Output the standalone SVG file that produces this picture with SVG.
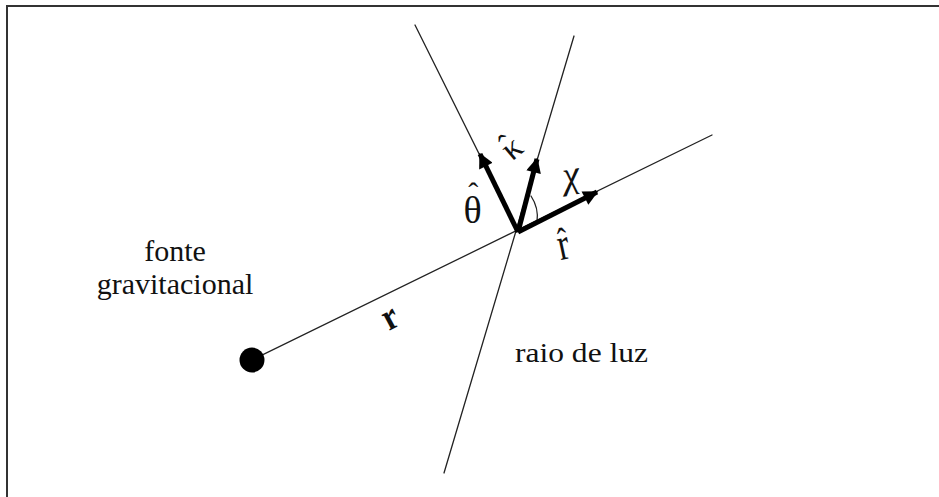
<svg xmlns="http://www.w3.org/2000/svg" width="939" height="497" viewBox="0 0 939 497">
<defs>
<style>
.thin{stroke:#222;stroke-width:1.3;fill:none;stroke-linecap:round}
.vec{stroke:#000;stroke-width:5;fill:none}
.lbl{font-family:"Liberation Serif","Times New Roman",serif;fill:#111}
</style>
<marker id="ah" viewBox="0 0 10 10" refX="9" refY="5" markerWidth="4.4" markerHeight="3" markerUnits="strokeWidth" orient="auto">
<path d="M0,0 L10,5 L0,10 Z" fill="#000"/>
</marker>
</defs>
<rect width="939" height="497" fill="#fff"/>
<path d="M7,497 V6 H939" fill="none" stroke="#333" stroke-width="2"/>
<g id="connectors">
<line class="thin" x1="252" y1="360" x2="712" y2="135"/>
<line class="thin" x1="444" y1="473" x2="574" y2="36"/>
<line class="thin" x1="518" y1="232" x2="415" y2="25"/>
<path class="thin" d="M531,196 Q539,208 537,222"/>
<line class="vec" x1="518" y1="232" x2="480" y2="154" marker-end="url(#ah)"/>
<line class="vec" x1="518" y1="232" x2="537" y2="159" marker-end="url(#ah)"/>
<line class="vec" x1="518" y1="232" x2="597" y2="192" marker-end="url(#ah)"/>
</g>
<g id="source">
<circle cx="252" cy="360" r="12.5" fill="#000"/>
<text class="lbl" x="175" y="261" font-size="30" text-anchor="middle">fonte</text>
<text class="lbl" x="175" y="294" font-size="30" text-anchor="middle">gravitacional</text>
</g>
<g id="label-r">
<text class="lbl" font-size="32" font-weight="bold" transform="translate(389,331) rotate(-28) scale(1,1.2)">r</text>
</g>
<g id="label-ray">
<text class="lbl" x="515" y="362" font-size="27" textLength="133" lengthAdjust="spacingAndGlyphs">raio de luz</text>
</g>
<g id="label-theta">
<text class="lbl" x="463.5" y="223" font-size="38">θ<tspan dx="-13.5" dy="-20" font-size="30">ˆ</tspan></text>
</g>
<g id="label-kappa">
<g transform="translate(519,156) rotate(-40)">
<text class="lbl" x="-9" y="0" font-size="34">κ<tspan dx="-15" dy="-7" font-size="30">ˆ</tspan></text>
</g>
</g>
<g id="label-chi">
<text class="lbl" x="571" y="187" font-size="38" font-style="italic" text-anchor="middle" transform="rotate(-10 571 175)">χ</text>
</g>
<g id="label-rhat">
<g transform="translate(566,259) rotate(-12) scale(1,1.35)">
<text class="lbl" x="-5.7" y="0" font-size="34">r<tspan dx="-9.4" dy="-4" font-size="28">ˆ</tspan></text>
</g>
</g>
</svg>
